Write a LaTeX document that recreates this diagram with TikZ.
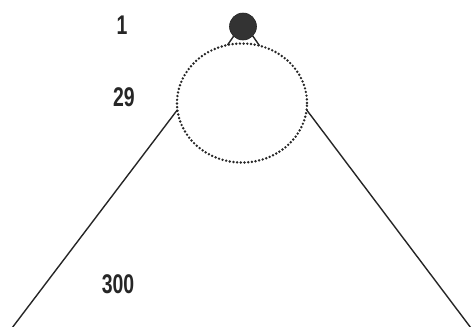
\documentclass[tikz,border=0pt]{standalone}
\usepackage{fontspec}
\setmainfont{Liberation Sans}
\usetikzlibrary{shapes.geometric}
\begin{document}
\begin{tikzpicture}[x=1pt,y=-1pt,
  lbl/.style={inner sep=0pt, font=\fontsize{27}{30}\selectfont\bfseries, text=black!85},
  edge/.style={line width=1.4pt, black!85},
  dotted ring/.style={draw=black!85, line width=2.7pt, line cap=round, dash pattern=on 0pt off 3.7pt},
  blob/.style={circle, fill=black!80, draw=black!85, line width=0.6pt, minimum size=27pt, inner sep=0pt, outer sep=0pt}]
\useasboundingbox (0,0) rectangle (472,327);
\node[ellipse, dotted ring, minimum width=130pt, minimum height=119pt, inner sep=0pt, outer sep=0pt] (e) at (242,103) {};
\node[blob] (d) at (243,26.5) {};
\coordinate (bl) at (12,328);
\coordinate (br) at (471,328);
\draw[edge] (d.226) -- (e.104);
\draw[edge] (d.-44) -- (e.73);
\draw[edge] (e.186) -- (bl);
\draw[edge] (e.-6) -- (br);
\node[lbl] (n1) at (122,25) {\scalebox{0.72}[1]{1}};
\node[lbl] (n29) at (124,97) {\scalebox{0.72}[1]{29}};
\node[lbl] (n300) at (118,284) {\scalebox{0.72}[1]{300}};
\end{tikzpicture}
\end{document}
